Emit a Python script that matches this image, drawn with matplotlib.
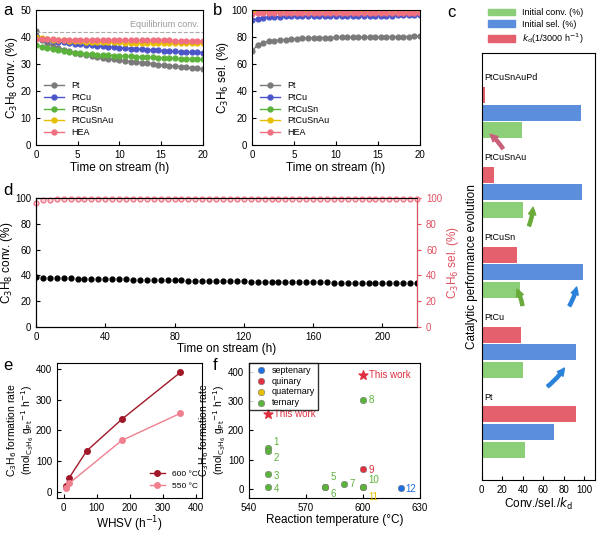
import numpy as np
import matplotlib
matplotlib.use("Agg")
import matplotlib.pyplot as plt
from matplotlib.patches import Patch

plt.rcParams["font.family"] = "Liberation Sans"
plt.rcParams["font.size"] = 7.5
plt.rcParams["axes.linewidth"] = 0.8

# ---- panel a / b : 20 h stability ----
T_AB = np.linspace(0, 20, 31)
CONV = {
    "Pt": [42.3, 39.0, 37.8, 36.8, 36.0, 35.4, 34.8, 34.3, 33.9, 33.5, 33.1, 32.8, 32.4, 32.1, 31.8, 31.5,
           31.3, 31.0, 30.8, 30.5, 30.3, 30.1, 29.9, 29.7, 29.5, 29.3, 29.1, 28.9, 28.7, 28.5, 28.3],
    "PtCu": [40.3, 39.5, 39.0, 38.7, 38.4, 38.1, 37.8, 37.6, 37.4, 37.2, 37.0, 36.8, 36.6, 36.4, 36.3, 36.1,
             35.9, 35.8, 35.6, 35.5, 35.4, 35.3, 35.1, 35.0, 34.9, 34.8, 34.7, 34.6, 34.5, 34.4, 34.3],
    "PtCuSn": [37.0, 36.5, 36.0, 35.6, 35.2, 34.9, 34.6, 34.3, 34.1, 33.9, 33.7, 33.6, 33.4, 33.3, 33.2, 33.1,
               33.0, 32.9, 32.8, 32.7, 32.6, 32.5, 32.4, 32.4, 32.3, 32.2, 32.1, 32.1, 32.0, 31.9, 31.8],
    "PtCuSnAu": [40.0, 39.6, 39.3, 39.1, 38.9, 38.8, 38.7, 38.6, 38.5, 38.4, 38.3, 38.3, 38.2, 38.2, 38.1, 38.1,
                 38.0, 38.0, 38.0, 37.9, 37.9, 37.9, 37.8, 37.8, 37.8, 37.8, 37.7, 37.7, 37.7, 37.7, 37.7],
    "HEA": [39.3, 39.3, 39.2, 39.2, 39.1, 39.1, 39.1, 39.0, 39.0, 39.0, 39.0, 38.9, 38.9, 38.9, 38.9, 38.9,
            38.9, 38.8, 38.8, 38.8, 38.8, 38.8, 38.8, 38.8, 38.8, 38.7, 38.7, 38.7, 38.7, 38.7, 38.7],
}
SEL = {
    "Pt": [69.5, 74.5, 76.0, 77.0, 77.5, 78.0, 78.3, 78.6, 78.9, 79.1, 79.3, 79.4, 79.5, 79.6, 79.7, 79.8,
           79.9, 80.0, 80.0, 80.1, 80.1, 80.2, 80.2, 80.3, 80.3, 80.4, 80.4, 80.5, 80.5, 80.6, 80.6],
    "PtCu": [92.5, 93.8, 94.5, 94.9, 95.1, 95.3, 95.4, 95.5, 95.6, 95.6, 95.7, 95.7, 95.8, 95.8, 95.8, 95.9,
             95.9, 95.9, 95.9, 96.0, 96.0, 96.0, 96.0, 96.0, 96.0, 96.0, 96.1, 96.1, 96.1, 96.1, 96.1],
    "PtCuSn": [99.5, 99.6, 99.6, 99.6, 99.6, 99.6, 99.7, 99.7, 99.7, 99.7, 99.7, 99.7, 99.7, 99.7, 99.7, 99.7,
               99.7, 99.7, 99.7, 99.7, 99.7, 99.7, 99.7, 99.7, 99.7, 99.7, 99.7, 99.7, 99.7, 99.7, 99.7],
    "PtCuSnAu": [99.0, 99.0, 99.1, 99.1, 99.1, 99.1, 99.1, 99.1, 99.1, 99.1, 99.1, 99.1, 99.1, 99.1, 99.1, 99.1,
                 99.1, 99.1, 99.1, 99.1, 99.1, 99.1, 99.1, 99.1, 99.1, 99.1, 99.1, 99.1, 99.1, 99.1, 99.1],
    "HEA": [97.3, 97.6, 97.8, 97.9, 98.0, 98.0, 98.1, 98.1, 98.1, 98.2, 98.2, 98.2, 98.2, 98.2, 98.3, 98.3,
            98.3, 98.3, 98.3, 98.3, 98.3, 98.3, 98.3, 98.3, 98.3, 98.3, 98.3, 98.3, 98.3, 98.3, 98.3],
}
COLORS = {"Pt": "#7a7a7a", "PtCu": "#4b55c8", "PtCuSn": "#5cb33c", "PtCuSnAu": "#e6c000", "HEA": "#f07080"}

# ---- panel d : 220 h ----
T_D = np.arange(0, 221, 4)
CONV_D = [38.6, 38.3, 38.1, 37.9, 37.8, 37.7, 37.6, 37.5, 37.4, 37.3, 37.2, 37.1, 37.0, 36.9, 36.8, 36.7,
          36.6, 36.5, 36.4, 36.3, 36.2, 36.1, 36.0, 36.0, 35.9, 35.8, 35.7, 35.6, 35.6, 35.5, 35.4, 35.3,
          35.2, 35.2, 35.1, 35.0, 35.0, 34.9, 34.8, 34.8, 34.7, 34.7, 34.6, 34.5, 34.5, 34.4, 34.4, 34.3,
          34.3, 34.2, 34.2, 34.1, 34.1, 34.0, 34.0, 34.0]
SEL_D = [96.5, 98.6, 98.8, 98.9, 99.0, 99.0, 99.0, 99.0, 99.0, 99.0, 99.0, 99.0, 99.0, 99.0, 99.0, 99.0,
         99.0, 99.0, 99.0, 99.0, 99.0, 99.0, 99.0, 99.0, 99.0, 99.0, 99.0, 99.0, 99.0, 99.0, 99.0, 99.0,
         99.0, 99.0, 99.0, 99.0, 99.0, 99.0, 99.0, 99.0, 99.0, 99.0, 99.0, 99.0, 99.0, 99.0, 99.0, 99.0,
         99.0, 99.0, 99.0, 99.0, 99.0, 99.0, 99.0, 99.0]

# ---- panel c ----
C_CATS = ["Pt", "PtCu", "PtCuSn", "PtCuSnAu", "PtCuSnAuPd"]
C_CONV = [42, 40, 37, 40, 39]
C_SEL = [70, 92, 99, 98, 97]
C_KD = [92, 38, 34, 12, 3]

# ---- panel e ----
WHSV_600 = [6, 17, 70, 176, 354]
RATE_600 = [18, 45, 133, 236, 390]
WHSV_550 = [6, 17, 176, 354]
RATE_550 = [10, 27, 167, 256]

# ---- panel f ----
F_GROUPS = ["septenary", "quinary", "quaternary", "ternary"]
F_COLORS = ["#1f6fe0", "#e03040", "#e6c000", "#5cb33c"]
F_T = {"septenary": [620], "quinary": [600], "quaternary": [600],
       "ternary": [550, 550, 550, 550, 580, 580, 590, 600, 600]}
F_R = {"septenary": [3], "quinary": [68], "quaternary": [5],
       "ternary": [140, 130, 50, 5, 8, 5, 18, 305, 8]}
F_LBL = {"septenary": ["12"], "quinary": ["9"], "quaternary": ["11"],
         "ternary": ["1", "2", "3", "4", "5", "6", "7", "8", "10"]}
F_LOFF = {"septenary": [(3, -1)], "quinary": [(4, -1)], "quaternary": [(4, -7)],
          "ternary": [(4, 4), (4, -5), (4, -1), (4, -1), (4, 7), (4, -5), (4, 0), (4, 0), (4, 5)]}
STAR_T = [550, 600]
STAR_R = [256, 390]

fig = plt.figure(figsize=(6, 5.38), dpi=100)


def lab(x, y, s):
    fig.text(x, y, s, fontsize=12, ha="left", va="top")


def style(ax):
    ax.tick_params(direction="in", length=3, width=0.8, top=False, right=False, labelsize=7)


RATE_LABEL = ("C$_3$H$_6$ formation rate\n"
              r"(mol$_{\mathrm{C_3H_6}}$ g$_{\mathrm{Pt}}$$^{-1}$ h$^{-1}$)")

# a
ax = fig.add_axes([0.06, 0.730, 0.278, 0.251])
for k, v in CONV.items():
    ax.plot(T_AB, v, "-o", color=COLORS[k], ms=3.5, lw=1, label=k)
ax.axhline(42, ls="--", color="#aaaaaa", lw=0.8)
ax.text(19.5, 43, "Equilibrium conv.", color="#999999", fontsize=6.5, ha="right", va="bottom")
ax.set_xlim(0, 20); ax.set_ylim(0, 50)
ax.set_xticks([0, 5, 10, 15, 20])
ax.set_xlabel("Time on stream (h)", fontsize=8.5, labelpad=1)
ax.set_ylabel(r"C$_3$H$_8$ conv. (%)", fontsize=8.5, labelpad=0)
ax.legend(loc="lower left", frameon=False, fontsize=6.5, handlelength=2.2, labelspacing=0.3)
style(ax)
lab(0.005, 0.995, "a")

# b
ax = fig.add_axes([0.42, 0.730, 0.28, 0.251])
for k, v in SEL.items():
    ax.plot(T_AB, v, "-o", color=COLORS[k], ms=3.5, lw=1, label=k)
ax.set_xlim(0, 20); ax.set_ylim(0, 100)
ax.set_xticks([0, 5, 10, 15, 20])
ax.set_xlabel("Time on stream (h)", fontsize=8.5, labelpad=1)
ax.set_ylabel(r"C$_3$H$_6$ sel. (%)", fontsize=8.5, labelpad=0)
ax.legend(loc="lower left", frameon=False, fontsize=6.5, handlelength=2.2, labelspacing=0.3)
style(ax)
lab(0.355, 0.995, "b")

# d
ax = fig.add_axes([0.06, 0.392, 0.635, 0.240])
ax.plot(T_D, CONV_D, "o", color="black", ms=3.5)
ax.set_xlim(0, 220); ax.set_ylim(0, 100)
ax.set_xticks(np.arange(0, 201, 40))
ax.set_xlabel("Time on stream (h)", fontsize=8.5, labelpad=1)
ax.set_ylabel(r"C$_3$H$_8$ conv. (%)", fontsize=8.5, labelpad=0)
style(ax)
ax2 = ax.twinx()
ax2.plot(T_D, SEL_D, "o", color="#f07080", ms=3.5, mfc="#fbd0d6", mew=0.9, clip_on=False)
ax2.set_ylim(0, 100)
ax2.set_yticks([0, 20, 40, 60, 80, 100])
ax2.tick_params(direction="out", length=3, colors="#e05060", labelsize=7)
ax2.spines["right"].set_color("#e05060")
ax2.set_ylabel(r"C$_3$H$_6$ sel. (%)", fontsize=8.5, color="#e05060", labelpad=2)
lab(0.005, 0.66, "d")

# c
ax = fig.add_axes([0.803, 0.108, 0.188, 0.794])
y = np.arange(len(C_CATS)) * 1.0
h = 0.2
ax.barh(y - 0.22, C_CONV, height=h, color="#8ccf78")
ax.barh(y, C_SEL, height=h, color="#5b8fdc")
ax.barh(y + 0.22, C_KD, height=h, color="#e4606c")
for yi, name in zip(y, C_CATS):
    ax.text(2, yi + 0.38, name, fontsize=6.5, va="bottom")
ax.set_ylim(-0.6, 4.75)
ax.set_xlim(0, 110)
ax.set_xticks([0, 20, 40, 60, 80, 100])
ax.set_yticks([])
ax.set_xlabel(r"Conv./sel./$k_\mathrm{d}$", fontsize=8.5, labelpad=1)
ax.set_ylabel("Catalytic performance evolution", fontsize=8.5, labelpad=3)
ax.tick_params(direction="in", length=3, labelsize=7)
arrows = [((62, 0.55), (82, 0.83), "#2b82d9"), ((84, 1.55), (93, 1.85), "#2b82d9"),
          ((40, 1.55), (33, 1.82), "#6aaa3a"), ((45, 2.55), (50, 2.85), "#6aaa3a"),
          ((22, 3.52), (6, 3.75), "#c9607a")]
for (x0, y0), (x1, y1), c in arrows:
    ax.annotate("", xy=(x1, y1), xytext=(x0, y0),
                arrowprops=dict(arrowstyle="simple,head_width=0.7,head_length=0.7,tail_width=0.3",
                                color=c, connectionstyle="arc3,rad=0.1"))
fig.legend(handles=[Patch(color="#8ccf78", label="Initial conv. (%)"),
                    Patch(color="#5b8fdc", label="Initial sel. (%)"),
                    Patch(color="#e4606c", label=r"$k_\mathrm{d}$(1/3000 h$^{-1}$)")],
           loc="upper left", bbox_to_anchor=(0.8, 1.0), frameon=False, fontsize=6.5,
           handlelength=3, handleheight=0.8, labelspacing=0.3)
lab(0.745, 0.99, "c")

# e
ax = fig.add_axes([0.095, 0.075, 0.242, 0.25])
ax.plot(WHSV_600, RATE_600, "-o", color="#a01828", ms=4, lw=1, label="600 °C")
ax.plot(WHSV_550, RATE_550, "-o", color="#f08090", ms=4, lw=1, label="550 °C")
ax.set_xlim(-20, 420); ax.set_ylim(-20, 420)
ax.set_xticks([0, 100, 200, 300, 400]); ax.set_yticks([0, 100, 200, 300, 400])
ax.set_xlabel(r"WHSV (h$^{-1}$)", fontsize=8.5, labelpad=1)
ax.set_ylabel(RATE_LABEL, fontsize=7.5, labelpad=0, linespacing=1.0)
ax.legend(loc="lower right", fontsize=6, frameon=False, handlelength=1.8, bbox_to_anchor=(1.02, 0.0))
style(ax)
lab(0.005, 0.335, "e")

# f
ax = fig.add_axes([0.415, 0.075, 0.285, 0.25])
for g, c in zip(F_GROUPS, F_COLORS):
    ax.scatter(F_T[g], F_R[g], s=22, color=c, edgecolors="#777777", linewidths=0.4, label=g, zorder=3)
    for xv, yv, t, off in zip(F_T[g], F_R[g], F_LBL[g], F_LOFF[g]):
        ax.annotate(t, (xv, yv), xytext=off, textcoords="offset points", color=c, fontsize=7, va="center")
ax.scatter(STAR_T, STAR_R, marker="*", s=45, color="#e03040", zorder=3)
for xv, yv in zip(STAR_T, STAR_R):
    ax.annotate("This work", (xv, yv), xytext=(4, 0), textcoords="offset points",
                color="#e03040", fontsize=7, va="center")
ax.set_xlim(540, 630); ax.set_ylim(-30, 430)
ax.set_xticks([540, 570, 600, 630]); ax.set_yticks([0, 100, 200, 300, 400])
ax.set_xlabel("Reaction temperature (°C)", fontsize=8.5, labelpad=1)
ax.set_ylabel(RATE_LABEL, fontsize=7.5, labelpad=0, linespacing=1.0)
ax.legend(loc="upper left", fontsize=6.5, handletextpad=0.2, borderpad=0.3, labelspacing=0.2,
          fancybox=False, edgecolor="black", borderaxespad=0)
style(ax)
lab(0.355, 0.335, "f")

fig.savefig("out.png", dpi=100)
